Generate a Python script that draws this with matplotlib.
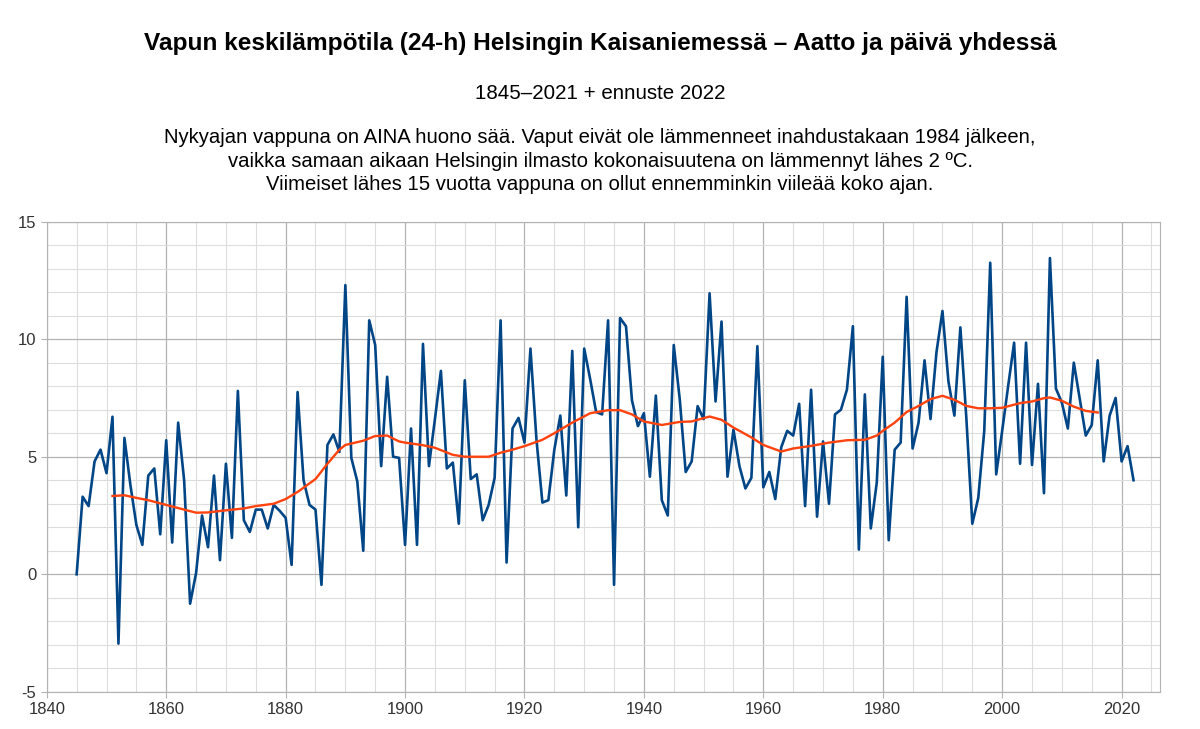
import matplotlib
matplotlib.use("Agg")
import matplotlib.pyplot as plt
from matplotlib.ticker import MultipleLocator
import numpy as np

plt.rcParams['font.family'] = ['Liberation Sans', 'DejaVu Sans']
plt.rcParams['axes.unicode_minus'] = False

years = np.arange(1845, 2023)
temps = [
    0.0, 3.3, 2.9, 4.8, 5.3,                                   # 1845-1849
    4.3, 6.7, -2.95, 5.8, 3.8, 2.1, 1.25, 4.2, 4.5, 1.7,       # 1850s
    5.7, 1.35, 6.45, 4.0, -1.25, 0.05, 2.5, 1.15, 4.2, 0.6,    # 1860s
    4.7, 1.55, 7.8, 2.3, 1.8, 2.75, 2.75, 1.95, 2.95, 2.7,     # 1870s
    2.4, 0.4, 7.75, 4.0, 2.95, 2.75, -0.45, 5.5, 5.95, 5.2,    # 1880s
    12.3, 4.95, 3.95, 1.0, 10.8, 9.75, 4.6, 8.4, 5.0, 4.95,    # 1890s
    1.25, 6.2, 1.25, 9.8, 4.6, 6.6, 8.65, 4.5, 4.75, 2.15,     # 1900s
    8.25, 4.05, 4.25, 2.3, 2.95, 4.1, 10.8, 0.5, 6.2, 6.65,    # 1910s
    5.6, 9.6, 5.75, 3.05, 3.15, 5.3, 6.75, 3.35, 9.5, 2.0,     # 1920s
    9.6, 8.3, 6.9, 6.8, 10.8, -0.45, 10.9, 10.55, 7.4, 6.3,    # 1930s
    6.85, 4.15, 7.6, 3.15, 2.5, 9.75, 7.45, 4.35, 4.8, 7.15,   # 1940s
    6.6, 11.95, 7.35, 10.75, 4.15, 6.15, 4.6, 3.65, 4.1, 9.7,  # 1950s
    3.7, 4.35, 3.2, 5.4, 6.1, 5.9, 7.25, 2.9, 7.85, 2.45,      # 1960s
    5.65, 3.0, 6.8, 7.0, 7.85, 10.55, 1.05, 7.65, 1.95, 3.9,   # 1970s
    9.25, 1.45, 5.3, 5.6, 11.8, 5.35, 6.45, 9.1, 6.6, 9.45,    # 1980s
    11.2, 8.2, 6.75, 10.5, 6.65, 2.15, 3.25, 6.1, 13.25, 4.25, # 1990s
    6.1, 8.0, 9.85, 4.7, 9.85, 4.65, 8.1, 3.45, 13.45, 7.9,    # 2000s
    7.3, 6.2, 9.0, 7.45, 5.9, 6.35, 9.1, 4.8, 6.75, 7.5,       # 2010s
    4.8, 5.45, 4.0,                                            # 2020-2022
]

# smoothed trend line
trend_years = [1851, 1853, 1855, 1857, 1860, 1863, 1865, 1867, 1870, 1873,
               1875, 1878, 1880, 1882, 1885, 1887, 1889, 1890, 1893, 1895,
               1897, 1899, 1900, 1903, 1905, 1908, 1910, 1912, 1914, 1916,
               1918, 1920, 1923, 1925, 1928, 1931, 1934, 1936, 1938, 1940,
               1943, 1946, 1948, 1951, 1953, 1955, 1958, 1960, 1963, 1965,
               1968, 1971, 1974, 1977, 1979, 1980, 1982, 1984, 1986, 1988,
               1990, 1992, 1994, 1996, 1998, 2000, 2003, 2005, 2007, 2008,
               2010, 2012, 2014, 2016]
trend_vals = [3.33, 3.36, 3.25, 3.15, 2.95, 2.75, 2.62, 2.63, 2.72, 2.8,
              2.9, 3.0, 3.2, 3.5, 4.05, 4.7, 5.3, 5.5, 5.68, 5.88,
              5.9, 5.65, 5.6, 5.49, 5.38, 5.08, 5.0, 5.0, 5.0, 5.17,
              5.3, 5.45, 5.72, 6.0, 6.45, 6.85, 6.98, 6.98, 6.8, 6.5,
              6.35, 6.48, 6.5, 6.71, 6.57, 6.24, 5.82, 5.5, 5.22, 5.35,
              5.46, 5.6, 5.7, 5.72, 5.9, 6.1, 6.45, 6.9, 7.16, 7.45,
              7.59, 7.42, 7.16, 7.06, 7.06, 7.08, 7.28, 7.35, 7.49, 7.52,
              7.38, 7.13, 6.95, 6.88]

fig = plt.figure(figsize=(12, 7.29), dpi=100)
ax = fig.add_axes([0.039, 0.051, 0.928, 0.645])

ax.plot(years, temps, color='#004586', lw=1.9, zorder=3)
ax.plot(trend_years, trend_vals, color='#ff420e', lw=1.7, zorder=4)

ax.set_xlim(1840, 2026.5)
ax.set_ylim(-5, 15)
ax.xaxis.set_major_locator(MultipleLocator(20))
ax.xaxis.set_minor_locator(MultipleLocator(5))
ax.yaxis.set_major_locator(MultipleLocator(5))
ax.yaxis.set_minor_locator(MultipleLocator(1))
ax.grid(which='major', color='#b3b3b3', lw=0.9, zorder=0)
ax.grid(which='minor', color='#dddddd', lw=0.8, zorder=0)
ax.tick_params(which='major', length=4, color='#b3b3b3', labelsize=12, labelcolor='#333333')
ax.tick_params(which='minor', length=0)
for s in ax.spines.values():
    s.set_color('#b3b3b3')

fig.text(0.5, 0.941, 'Vapun keskilämpötila (24-h) Helsingin Kaisaniemessä – Aatto ja päivä yhdessä',
         ha='center', va='center', fontsize=17.6, fontweight='bold')
fig.text(0.5, 0.872, '1845–2021 + ennuste 2022', ha='center', va='center', fontsize=14.8)
fig.text(0.5, 0.779,
         'Nykyajan vappuna on AINA huono sää. Vaput eivät ole lämmenneet inahdustakaan 1984 jälkeen,\n'
         'vaikka samaan aikaan Helsingin ilmasto kokonaisuutena on lämmennyt lähes 2 ºC.\n'
         'Viimeiset lähes 15 vuotta vappuna on ollut ennemminkin viileää koko ajan.',
         ha='center', va='center', fontsize=14.6, linespacing=1.3)

fig.savefig('out.png', dpi=100)
